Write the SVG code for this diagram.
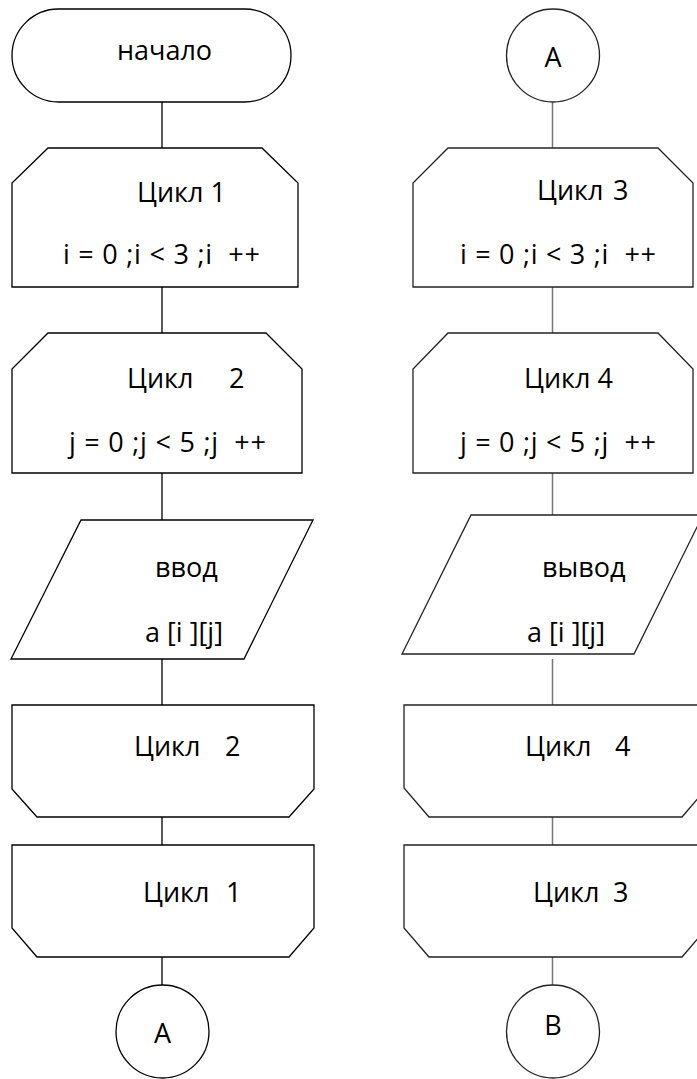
<svg xmlns="http://www.w3.org/2000/svg" width="697" height="1079" viewBox="0 0 697 1079">
<style>
.s{fill:#fff;stroke:#000;stroke-width:1.3}
.sr{fill:#fff;stroke:#222;stroke-width:1.3}
.c{stroke:#000;stroke-width:1.3;fill:none}
.cr{stroke:#777;stroke-width:1.5;fill:none}
text{font-family:"Open Sans","Noto Sans","Liberation Sans",sans-serif;font-size:27px;fill:#000;white-space:pre}
.m{text-anchor:middle}
</style>
<rect width="697" height="1079" fill="#fff"/>
<g id="connectors">
<path class="c" d="M162 102V148M162 287V333M162 473V520M162 659V705M162 817V845M162 957V985"/>
<path class="cr" d="M552.5 102V148M552.5 287V333M552.5 473V520M552.5 659V705M552.5 817V845M552.5 957V985"/>
</g>
<g id="start">
<rect class="s" x="12" y="9" width="279" height="93" rx="46.5" ry="46.5"/>
<text class="m" x="164.5" y="60">начало</text>
</g>
<g id="loop1">
<polygon class="s" points="48,148 262,148 298,183 298,287 12,287 12,183"/>
<text x="137" y="202">Цикл 1</text>
<text x="63" y="264" textLength="197" lengthAdjust="spacing">i = 0 ;i &lt; 3 ;i  ++</text>
</g>
<g id="loop2">
<polygon class="s" points="48,333 266,333 302,369 302,473 12,473 12,369"/>
<text x="127" y="388">Цикл<tspan x="229">2</tspan></text>
<text x="69" y="452" textLength="197" lengthAdjust="spacing">j = 0 ;j &lt; 5 ;j  ++</text>
</g>
<g id="input">
<polygon class="s" points="81,520 313,520 244,659 11,659"/>
<text x="155" y="577">ввод</text>
<text x="145" y="642">a [i ][j]</text>
</g>
<g id="loop2end">
<polygon class="s" points="12,705 314,705 314,789 289,817 37,817 12,789"/>
<text x="134" y="756">Цикл<tspan x="225">2</tspan></text>
</g>
<g id="loop1end">
<polygon class="s" points="12,845 314,845 314,928 289,957 37,957 12,928"/>
<text x="143" y="902">Цикл<tspan x="226">1</tspan></text>
</g>
<g id="connA1">
<circle class="s" cx="162.5" cy="1031.5" r="46.5"/>
<text class="m" x="162.5" y="1043">A</text>
</g>
<g id="connA2">
<circle class="sr" cx="553" cy="55.5" r="46.5"/>
<text class="m" x="553" y="67">A</text>
</g>
<g id="loop3">
<polygon class="sr" points="448,148 658,148 693,183 693,287 413,287 413,183"/>
<text x="537" y="200">Цикл<tspan x="613">3</tspan></text>
<text x="460" y="264" textLength="196" lengthAdjust="spacing">i = 0 ;i &lt; 3 ;i  ++</text>
</g>
<g id="loop4">
<polygon class="sr" points="448,333 658,333 693,369 693,473 413,473 413,369"/>
<text x="524" y="388">Цикл 4</text>
<text x="460" y="452" textLength="196" lengthAdjust="spacing">j = 0 ;j &lt; 5 ;j  ++</text>
</g>
<g id="output">
<polygon class="sr" points="471,515 703,515 634,654 402,654"/>
<text x="542" y="577">вывод</text>
<text x="527" y="642">a [i ][j]</text>
</g>
<g id="loop4end">
<polygon class="sr" points="404,705 707,705 707,788 682,817 429,817 404,788"/>
<text x="525" y="756">Цикл<tspan x="615">4</tspan></text>
</g>
<g id="loop3end">
<polygon class="sr" points="404,845 707,845 707,928 682,957 429,957 404,928"/>
<text x="533" y="902">Цикл<tspan x="613">3</tspan></text>
</g>
<g id="connB">
<circle class="sr" cx="553" cy="1031.5" r="46.5"/>
<text class="m" x="553" y="1035">B</text>
</g>
</svg>
